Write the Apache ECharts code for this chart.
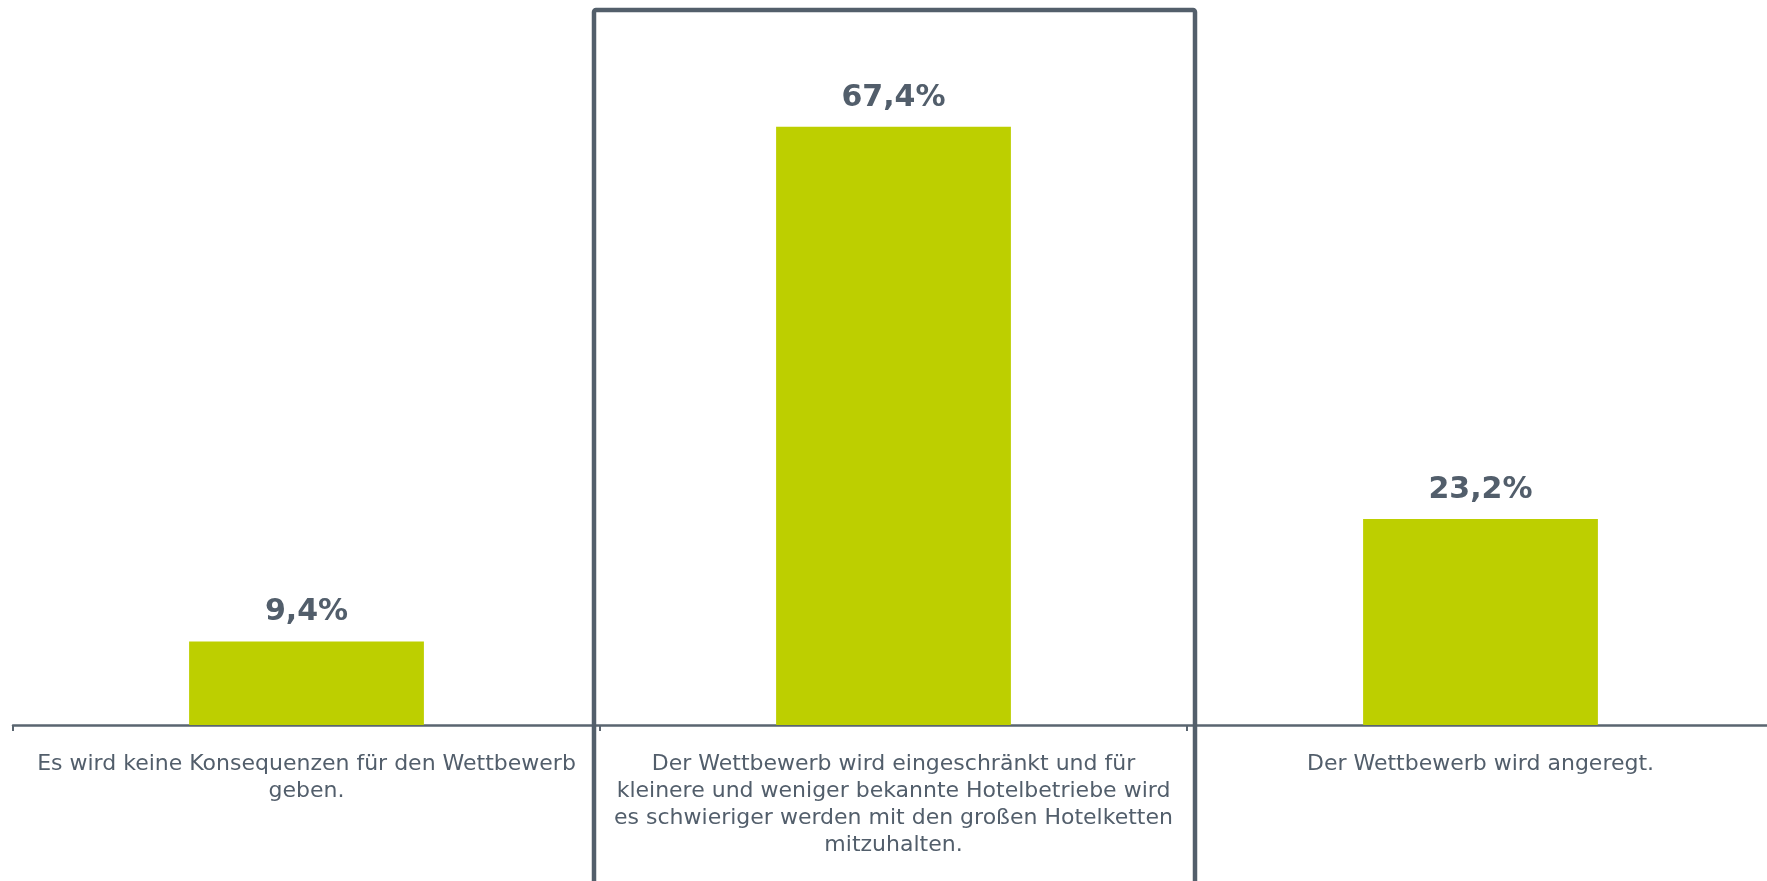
<!DOCTYPE html>
<html>
<head>
<meta charset="utf-8">
<script src="https://cdn.jsdelivr.net/npm/echarts@6/dist/echarts.min.js"></script>
<style>
  html, body { margin: 0; padding: 0; background: #fff; }
  #chart { width: 1767px; height: 881px; }
</style>
</head>
<body>
<div id="chart"></div>
<script>
// Antworten (Zeilenumbrüche wie im Original)
const categories = [
    'Es wird keine Konsequenzen für den Wettbewerb\ngeben.',
    'Der Wettbewerb wird eingeschränkt und für\nkleinere und weniger bekannte Hotelbetriebe wird\nes schwieriger werden mit den großen Hotelketten\nmitzuhalten.',
    'Der Wettbewerb wird angeregt.'
];
const values = [9.4, 67.4, 23.2];
const highlightIndex = 1;

const textColor = '#525e6b';
const barColor = '#bdcf00';

var myChart = echarts.init(document.getElementById('chart'));

var option = {
    animation: false,
    grid: {
        left: 13,
        width: 1761,
        top: 15,
        bottom: 156,
        outerBoundsMode: 'none',
        containLabel: false,
    },
    xAxis: {
        type: 'category',
        data: categories,
        axisLine: {
            lineStyle: { color: '#5a6570', width: 2.5 },
        },
        axisTick: {
            show: true,
            length: 6,
            lineStyle: { color: '#5a6570', width: 2 },
        },
        axisLabel: {
            interval: 0,
            margin: 26,
            color: textColor,
            fontFamily: 'DejaVu Sans',
            fontSize: 22,
            lineHeight: 27,
            align: 'center',
        },
    },
    yAxis: {
        type: 'value',
        min: 0,
        max: 80,
        show: false,
        splitLine: { show: false },
    },
    series: [
        {
            type: 'bar',
            data: values,
            barWidth: '40%',
            itemStyle: { color: barColor },
            label: {
                show: true,
                position: 'top',
                distance: 14,
                color: textColor,
                fontFamily: 'DejaVu Sans',
                fontWeight: 'bold',
                fontSize: 30,
                formatter: (p) => p.value.toFixed(1).replace('.', ',') + '%',
            },
        },
    ],
};

myChart.setOption(option);

// Rahmen um die hervorgehobene Antwort
const c0 = myChart.convertToPixel({ xAxisIndex: 0 }, categories[0]);
const c1 = myChart.convertToPixel({ xAxisIndex: 0 }, categories[highlightIndex]);
const band = c1 - c0;
const topY = myChart.convertToPixel({ yAxisIndex: 0 }, 80) - 5;
myChart.setOption({
    graphic: [
        {
            type: 'rect',
            z: 100,
            shape: {
                x: c1 - band / 2 - 6,
                y: topY,
                width: band + 14,
                height: 900,
                r: 2,
            },
            style: {
                fill: 'none',
                stroke: '#535f6b',
                lineWidth: 4.5,
            },
        },
    ],
});
</script>
</body>
</html>
